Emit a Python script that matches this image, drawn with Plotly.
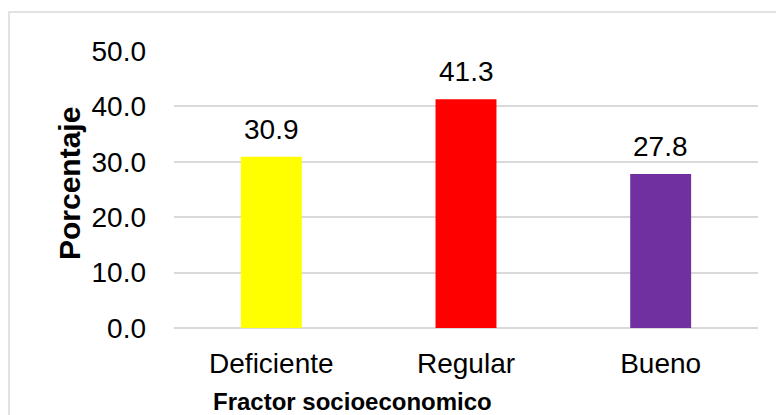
import plotly.graph_objects as go

categories = ["Deficiente", "Regular", "Bueno"]
values = [30.9, 41.3, 27.8]
colors = ["#FFFF00", "#FF0000", "#7030A0"]
labels = ["30.9", "41.3", "27.8"]
y_ticks = [0, 10, 20, 30, 40, 50]
y_ticklabels = ["0.0", "10.0", "20.0", "30.0", "40.0", "50.0"]

FONT = "Liberation Sans, Arial, sans-serif"

fig = go.Figure()
fig.add_trace(go.Bar(x=categories, y=values, marker_color=colors,
                     marker_line_width=0, hoverinfo="skip"))

for c, v, t in zip(categories, values, labels):
    fig.add_annotation(x=c, y=v, text=t, showarrow=False, yanchor="bottom",
                       xanchor="center", yshift=10,
                       font=dict(family=FONT, size=28, color="#000"))

fig.add_annotation(xref="paper", yref="paper", x=-0.178, y=0.52,
                   xanchor="center", yanchor="middle",
                   text="<b>Porcentaje</b>", textangle=-90, showarrow=False,
                   font=dict(family=FONT, size=30, color="#000"))
fig.add_annotation(xref="paper", yref="paper", x=0.3065, y=-0.264,
                   xanchor="center", yanchor="middle",
                   text="<b>Fractor socioeconomico</b>", showarrow=False,
                   font=dict(family=FONT, size=24, color="#000"))

fig.add_shape(type="rect", xref="paper", yref="paper",
              x0=-0.2825, y0=-0.33, x1=1.05, y1=1.1408,
              line=dict(color="#d9d9d9", width=1.5), fillcolor="rgba(0,0,0,0)",
              layer="below")

fig.update_layout(
    width=776, height=415,
    margin=dict(l=174, r=18, t=51, b=87),
    paper_bgcolor="white", plot_bgcolor="white",
    bargap=0.687, showlegend=False,
    font=dict(family=FONT, color="#000"),
)
fig.update_yaxes(range=[0, 50], tickvals=y_ticks, ticktext=y_ticklabels,
                 showgrid=True, gridcolor="#d9d9d9", gridwidth=1.5,
                 zeroline=True, zerolinecolor="#d9d9d9", zerolinewidth=1.5,
                 showline=False, tickfont=dict(family=FONT, size=28, color="#000"),
                 ticklabelstandoff=27, automargin=False, fixedrange=True)
fig.update_xaxes(showline=False, showgrid=False,
                 tickfont=dict(family=FONT, size=28, color="#000"),
                 ticklabelstandoff=16, automargin=False, fixedrange=True)

fig.write_html("out.html", config={"displayModeBar": False},
               post_script="document.body.style.margin='0';document.body.style.overflow='hidden';")
